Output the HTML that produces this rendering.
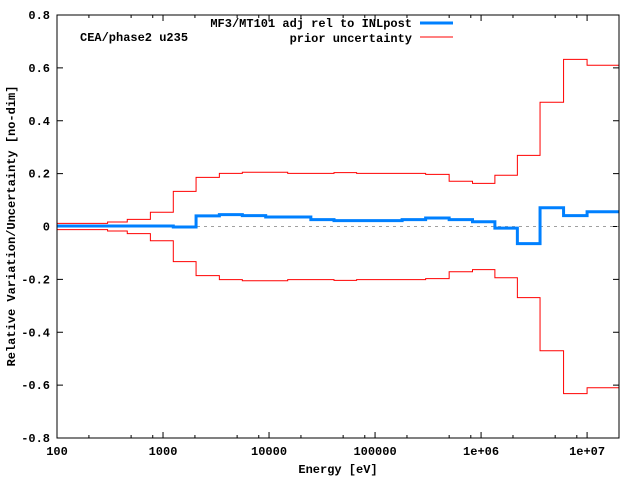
<!DOCTYPE html>
<html><head><meta charset="utf-8"><style>
body{margin:0;background:#fff}
svg text{font-family:"Liberation Mono",monospace;font-size:12px;font-weight:bold;fill:#000}
</style></head><body>
<svg width="640" height="480" xmlns="http://www.w3.org/2000/svg">
<g id="ticks"></g>
<line x1="57" y1="226.5" x2="619" y2="226.5" stroke="#a0a0a0" stroke-dasharray="3,4"/>
<path id="redUp" fill="none" stroke="#ff0000" stroke-width="1"/>
<path id="redDn" fill="none" stroke="#ff0000" stroke-width="1"/>
<path id="blue" fill="none" stroke="#0080ff" stroke-width="3"/>
<rect x="57" y="15" width="562" height="423" fill="none" stroke="#000"/>
<text x="80" y="41">CEA/phase2 u235</text>
<text x="412" y="27" text-anchor="end">MF3/MT101 adj rel to INLpost</text>
<line x1="420" y1="23" x2="453" y2="23" stroke="#0080ff" stroke-width="3"/>
<text x="412" y="42" text-anchor="end">prior uncertainty</text>
<line x1="420" y1="37" x2="453" y2="37" stroke="#ff0000"/>
<text x="338" y="473" text-anchor="middle">Energy [eV]</text>
<text transform="translate(15,226) rotate(-90)" text-anchor="middle">Relative Variation/Uncertainty [no-dim]</text>
</svg>
<script>
const edges=[100,300,460,760,1250,2050,3400,5600,9300,15000,24800,41000,67000,110000,180000,300000,500000,830000,1.35e6,2.2e6,3.6e6,6e6,1e7,2e7];
const prior=[0.012,0.017,0.027,0.054,0.133,0.186,0.201,0.205,0.205,0.201,0.201,0.204,0.201,0.201,0.201,0.197,0.171,0.163,0.194,0.269,0.47,0.632,0.61];
const adj=[0.002,0.002,0.002,0.002,-0.002,0.04,0.045,0.041,0.036,0.036,0.026,0.022,0.022,0.022,0.026,0.032,0.026,0.018,-0.006,-0.065,0.071,0.041,0.056];
const yTicks=[-0.8,-0.6,-0.4,-0.2,0,0.2,0.4,0.6,0.8];
const xTickVals=[100,1000,10000,100000,1e6,1e7];
const xTickLabels=["100","1000","10000","100000","1e+06","1e+07"];
const minorMult=[2,5,8];
const X0=57,X1=619,Y0=438,Y1=15,LMIN=2,LMAX=Math.log10(2e7);
const sx=v=>X0+(Math.log10(v)-LMIN)/(LMAX-LMIN)*(X1-X0);
const sy=v=>Y0-(v+0.8)/1.6*(Y0-Y1);
function step(vals,sign){let d="";for(let i=0;i<vals.length;i++){const a=sx(edges[i]),b=sx(edges[i+1]),y=sy(sign*vals[i]);d+=(i?"L":"M")+a+","+y+"L"+b+","+y;}return d;}
document.getElementById('redUp').setAttribute('d',step(prior,1));
document.getElementById('redDn').setAttribute('d',step(prior,-1));
document.getElementById('blue').setAttribute('d',step(adj,1));
const NS="http://www.w3.org/2000/svg",g=document.getElementById('ticks');
function ln(x1,y1,x2,y2){const l=document.createElementNS(NS,'line');l.setAttribute('x1',x1);l.setAttribute('y1',y1);l.setAttribute('x2',x2);l.setAttribute('y2',y2);l.setAttribute('stroke','#000');


g.appendChild(l);}
function tx(x,y,s,anc){const t=document.createElementNS(NS,'text');t.setAttribute('x',x);t.setAttribute('y',y);t.setAttribute('text-anchor',anc);t.textContent=s;


g.appendChild(t);}
yTicks.forEach(v=>{const y=sy(v);ln(X0,y,X0+6,y);ln(X1,y,X1-6,y);tx(50,y+4,(v===0?"0":v.toFixed(1)),"end");});
xTickVals.forEach((v,i)=>{const x=sx(v);ln(x,Y0,x,Y0-6);ln(x,Y1,x,Y1+6);tx(x,Y0+17,xTickLabels[i],"middle");});
for(let d=100;d<2e7;d*=10){minorMult.forEach(m=>{const v=d*m;if(v>2e7)return;const x=sx(v);ln(x,Y0,x,Y0-3);ln(x,Y1,x,Y1+3);});}
</script>
</body></html>
